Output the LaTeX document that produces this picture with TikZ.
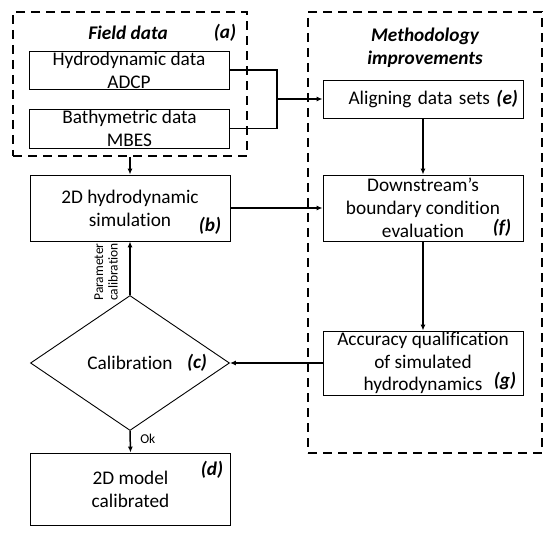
\documentclass[tikz,border=0pt]{standalone}
\usepackage{fontspec}
\setmainfont{Carlito}[Ligatures={NoCommon}]
\usetikzlibrary{arrows.meta,positioning,shapes.geometric}

\begin{document}
\begin{tikzpicture}[x=1pt,y=-1pt,font=\fontsize{19.3}{22.8}\selectfont,
  box/.style={draw,line width=0.9pt,align=center,inner sep=0pt,minimum width=200pt},
  grp/.style={draw,line width=1.6pt,dash pattern=on 9pt off 6pt},
  tag/.style={font=\fontsize{19.3}{22.8}\selectfont\bfseries\itshape},
  arr/.style={line width=1.5pt,-{Latex[length=6pt,width=5pt]}},
  small/.style={font=\fontsize{13.5}{14.5}\selectfont}]
\useasboundingbox (0,0) rectangle (550,535);
% dashed groups
\node[grp,minimum width=234pt,minimum height=144pt] (field) at (130,84) {};
\node[grp,minimum width=234pt,minimum height=441pt] (method) at (425,232.5) {};
\node[tag] (fieldt) at (128,33) {Field data};
\node[tag] (ta) at (225,33) {(a)};
\node[tag,align=center] (methodt) at (425,48) {Methodology\\improvements};
% left column
\node[box,minimum height=38pt] (hydro) at (129,70) {Hydrodynamic data\\ADCP};
\node[box,minimum height=39pt] (bathy) at (129.5,128.5) {Bathymetric data\\MBES};
\node[box,minimum height=66pt] (sim) at (130,208) {2D hydrodynamic\\simulation};
\node[tag] (tb) at (210,226) {(b)};
\node[diamond,draw,line width=0.9pt,minimum width=199pt,minimum height=135pt,inner sep=0pt] (cal) at (130,363) {Calibration};
\node[tag] (tc) at (197,363) {(c)};
\node[box,minimum height=72pt] (model) at (130.5,489) {2D model\\calibrated};
\node[tag] (td) at (212,470) {(d)};
% right column
\node[box,minimum height=38pt,text width=190pt,align=right] (align) at (423,99) {Aligning data sets \textbf{\textit{(e)}}};
\node[box,minimum height=66pt] (bound) at (423,208) {Downstream's\\boundary condition\\evaluation};
\node[tag] (tf) at (502,228) {(f)};
\node[box,minimum height=64pt] (acc) at (423,363) {Accuracy qualification\\of simulated\\hydrodynamics};
\node[tag] (tg) at (505,381) {(g)};
% connectors
\coordinate (join) at (277,99);
\draw[line width=1.5pt] (hydro.east) -| (join) |- (bathy.east);
\draw[arr] (join) -- (align.west);
\draw[arr] (field.south) -- (sim.north);
\draw[arr] (sim.east) -- (bound.west);
\draw[arr] (align.south) -- (bound.north);
\draw[arr] (bound.south) -- (acc.north);
\draw[arr] (acc.west) -- (cal.east);
\draw[arr] (cal.north) -- (sim.south);
\node[small,rotate=90,align=center] (param) at (106,272) {Parameter\\calibration};
\draw[arr] (cal.south) -- (model.north) node[small,pos=0.35,right=6pt] (ok) {Ok};
\end{tikzpicture}
\end{document}
